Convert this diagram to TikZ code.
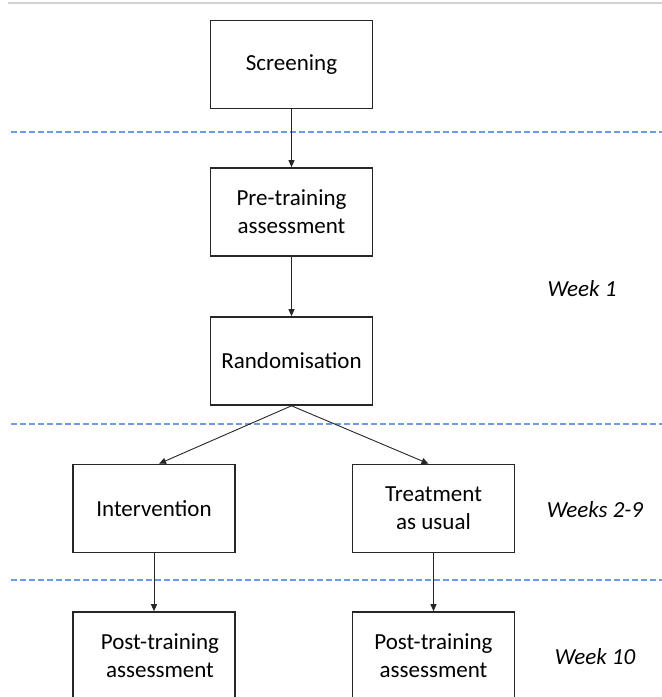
\documentclass[tikz,border=0pt]{standalone}
\usepackage{fontspec}
\setmainfont{Carlito}
\usepackage{xcolor}
\usepackage{tikz}
\usetikzlibrary{arrows.meta, positioning}

\definecolor{phaseblue}{RGB}{110,155,225}
\definecolor{topgray}{RGB}{210,210,210}

\tikzset{
    stagebox/.style={draw=black!85, line width=1.6pt, minimum width=162pt, minimum height=88pt,
        align=center, font=\fontsize{23}{28}\selectfont},
    flowarrow/.style={draw=black!85, line width=0.9pt, -{Triangle[length=7pt,width=6pt]}},
    phaseline/.style={phaseblue, line width=1.2pt, dash pattern=on 6pt off 3pt},
    weeklabel/.style={font=\fontsize{23}{28}\selectfont\itshape}
}

\begin{document}
\begin{tikzpicture}[x=1pt, y=-1pt]
    \useasboundingbox (0,0) rectangle (662,697);
    \clip (0,0) rectangle (662,697);

    % Draw top rule
    \draw[topgray, line width=1.2pt] (8,3) -- (662,3);

    % Draw phase separators
    \foreach \y in {132,424,580}
        \draw[phaseline] (11,\y) -- (662,\y);

    % Draw stage boxes
    \node[stagebox] (screen) at (291.5,64.5) {Screening};
    \node[stagebox] (pretest) at (291.5,212) {Pre-training\\assessment};
    \node[stagebox] (random) at (291.5,361) {Randomisation};
    \node[stagebox] (interv) at (154,508.5) {Intervention};
    \node[stagebox] (usual) at (433.5,508.5) {Treatment\\as usual};
    \node[stagebox] (postint) at (154,656) {\hspace*{12pt}Post-training\\\hspace*{12pt}assessment};
    \node[stagebox] (postusual) at (433.5,656) {Post-training\\assessment};

    % Connect stages
    \draw[flowarrow] (screen) -- (pretest);
    \draw[flowarrow] (pretest) -- (random);
    \draw[flowarrow] (random.south) -- ([xshift=5pt]interv.north);
    \draw[flowarrow] (random.south) -- ([xshift=-5pt]usual.north);
    \draw[flowarrow] (interv) -- (postint);
    \draw[flowarrow] (usual) -- (postusual);

    % Add week labels
    \node[weeklabel] (week1) at (582,289) {Week 1};
    \node[weeklabel] (week29) at (595,510) {Weeks 2-9};
    \node[weeklabel] (week10) at (595,657) {Week 10};
\end{tikzpicture}
\end{document}
